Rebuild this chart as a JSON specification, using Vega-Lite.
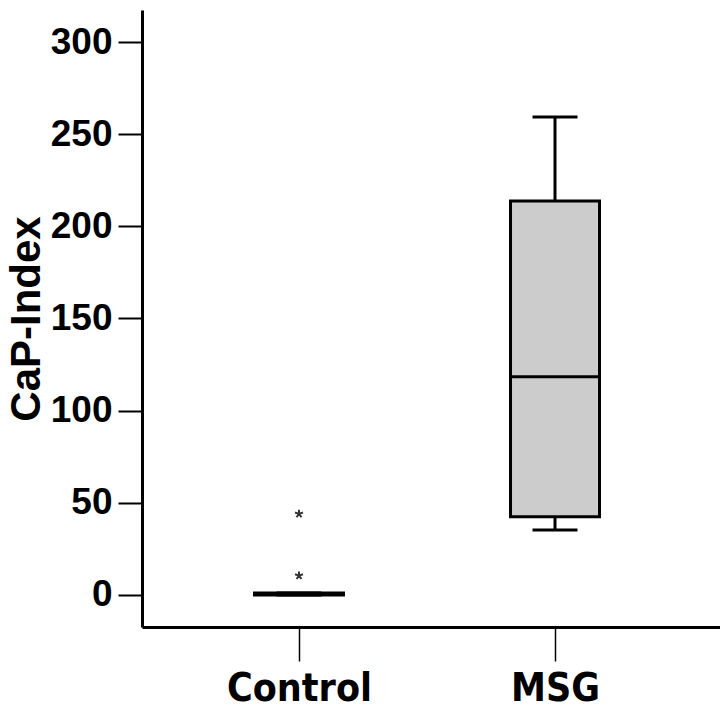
{
  "$schema": "https://vega.github.io/schema/vega-lite/v6.json",
  "autosize": {"type": "none"},
  "padding": {"left": 142, "top": 10, "right": 0, "bottom": 93},
  "width": 578,
  "height": 617,
  "background": "white",
  "config": {"view": {"stroke": null}},
  "datasets": {
    "stats": [
      {"group": "Control", "lower": 0, "q1": 0, "median": 0.5, "q3": 1, "upper": 1},
      {"group": "MSG", "lower": 35.3, "q1": 42.4, "median": 118.4, "q3": 213.8, "upper": 259.4}
    ],
    "outliers": [
      {"group": "Control", "value": 44},
      {"group": "Control", "value": 10.5}
    ]
  },
  "encoding": {
    "x": {
      "field": "group", "type": "nominal",
      "scale": {"type": "point", "padding": 0.6289, "align": 0.4876, "domain": ["Control", "MSG"]},
      "axis": {
        "title": null, "labelAngle": 0, "domainWidth": 3, "domainColor": "black",
        "tickColor": "black", "tickWidth": 1.5, "tickSize": 34,
        "labelFont": "'DejaVu Sans Condensed', 'Liberation Sans', sans-serif", "labelFontWeight": "bold", "labelFontSize": 39,
        "labelColor": "black", "labelPadding": 8
      }
    }
  },
  "layer": [
    {
      "data": {"name": "stats"},
      "mark": {"type": "rule", "stroke": "black", "strokeWidth": 3},
      "encoding": {
        "y": {
          "field": "lower", "type": "quantitative",
          "scale": {"domain": [-17.4, 317.4], "nice": false, "zero": false},
          "axis": {
            "title": "CaP-Index", "values": [0, 50, 100, 150, 200, 250, 300],
            "grid": false, "domainWidth": 3, "domainColor": "black",
            "tickColor": "black", "tickWidth": 2, "tickSize": 24,
            "labelFont": "Liberation Sans", "labelFontWeight": "bold", "labelFontSize": 37,
            "labelColor": "black", "labelPadding": 6,
            "titleFont": "Liberation Sans", "titleFontWeight": "bold", "titleFontSize": 42,
            "titleColor": "black", "titlePadding": 2
          }
        },
        "y2": {"field": "upper"}
      }
    },
    {
      "data": {"name": "stats"},
      "mark": {"type": "bar", "width": 89, "fill": "#cccccc", "stroke": "black", "strokeWidth": 3},
      "encoding": {
        "y": {"field": "q1", "type": "quantitative"},
        "y2": {"field": "q3"}
      }
    },
    {
      "data": {"name": "stats"},
      "mark": {"type": "tick", "orient": "horizontal", "size": 89, "thickness": 3, "color": "black", "opacity": 1},
      "encoding": {"y": {"field": "median", "type": "quantitative"}}
    },
    {
      "data": {"name": "stats"},
      "mark": {"type": "tick", "orient": "horizontal", "size": 45, "thickness": 3, "color": "black", "opacity": 1},
      "encoding": {"y": {"field": "upper", "type": "quantitative"}}
    },
    {
      "data": {"name": "stats"},
      "mark": {"type": "tick", "orient": "horizontal", "size": 45, "thickness": 3, "color": "black", "opacity": 1},
      "encoding": {"y": {"field": "lower", "type": "quantitative"}}
    },
    {
      "data": {"name": "outliers"},
      "mark": {
        "type": "point", "filled": false, "stroke": "#333333", "strokeWidth": 2, "size": 70, "opacity": 1,
        "shape": "M0,-1L0,0M0,0L0.95,-0.31M0,0L0.59,0.81M0,0L-0.59,0.81M0,0L-0.95,-0.31"
      },
      "encoding": {"y": {"field": "value", "type": "quantitative"}}
    }
  ]
}
